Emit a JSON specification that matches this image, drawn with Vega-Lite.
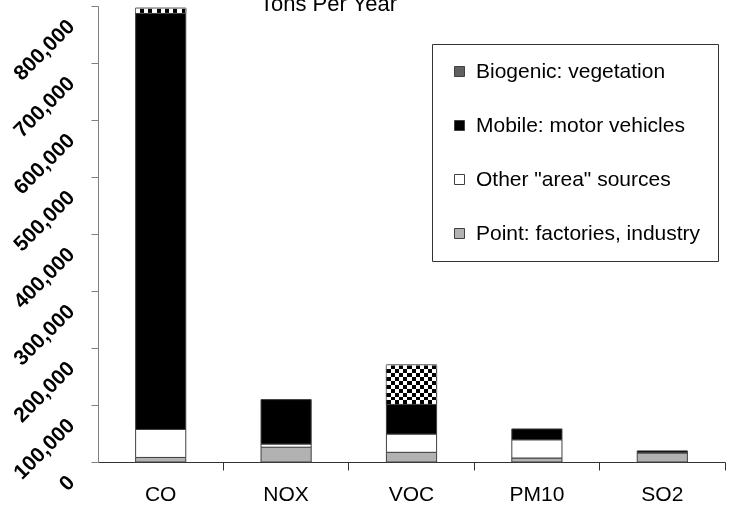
{
  "$schema": "https://vega.github.io/schema/vega-lite/v6.json",
  "width": 627,
  "height": 456,
  "autosize": {"type": "none"},
  "padding": {"left": 98, "top": 6, "right": 6, "bottom": 46},
  "background": "white",
  "config": {"view": {"stroke": null}, "font": "Liberation Sans"},
  "title": {"text": "Tons Per Year", "fontSize": 22, "fontWeight": "normal", "font": "Liberation Sans", "color": "black", "anchor": "middle", "frame": "group", "dx": -83, "offset": -4, "dy": 23, "baseline": "alphabetic"},
  "data": {
    "values": [
      {"pollutant": "CO", "source": "Point: factories, industry", "tons": 8000},
      {"pollutant": "CO", "source": "Other \"area\" sources", "tons": 49000},
      {"pollutant": "CO", "source": "Mobile: motor vehicles", "tons": 730000},
      {"pollutant": "CO", "source": "Biogenic: vegetation", "tons": 9000},
      {"pollutant": "NOX", "source": "Point: factories, industry", "tons": 26000},
      {"pollutant": "NOX", "source": "Other \"area\" sources", "tons": 5500},
      {"pollutant": "NOX", "source": "Mobile: motor vehicles", "tons": 78000},
      {"pollutant": "VOC", "source": "Point: factories, industry", "tons": 17000},
      {"pollutant": "VOC", "source": "Other \"area\" sources", "tons": 32000},
      {"pollutant": "VOC", "source": "Mobile: motor vehicles", "tons": 52000},
      {"pollutant": "VOC", "source": "Biogenic: vegetation", "tons": 69000},
      {"pollutant": "PM10", "source": "Point: factories, industry", "tons": 7000},
      {"pollutant": "PM10", "source": "Other \"area\" sources", "tons": 32000},
      {"pollutant": "PM10", "source": "Mobile: motor vehicles", "tons": 19000},
      {"pollutant": "SO2", "source": "Point: factories, industry", "tons": 16000},
      {"pollutant": "SO2", "source": "Other \"area\" sources", "tons": 500},
      {"pollutant": "SO2", "source": "Mobile: motor vehicles", "tons": 3000}
    ]
  },
  "transform": [
    {"stack": "tons", "groupby": ["pollutant"], "sort": [{"field": "source", "order": "descending"}], "as": ["t0", "t1"]}
  ],
  "encoding": {
    "x": {
      "field": "pollutant", "type": "nominal", "sort": ["CO", "NOX", "VOC", "PM10", "SO2"],
      "scale": {"paddingInner": 0, "paddingOuter": 0},
      "axis": {"title": null, "labelAngle": 0, "labelFontSize": 21, "labelFont": "Liberation Sans", "labelColor": "black", "labelPadding": 13, "tickSize": 8, "tickColor": "#333333", "domainColor": "#333333", "bandPosition": 1, "grid": false}
    },
    "y": {
      "field": "t1", "type": "quantitative",
      "scale": {"domain": [0, 800000], "nice": false},
      "axis": {"title": null, "values": [0, 100000, 200000, 300000, 400000, 500000, 600000, 700000, 800000], "format": ",d", "labelAngle": -45, "labelAlign": "right", "labelBaseline": "middle", "labelFontSize": 21, "labelFontWeight": "bold", "labelFont": "Liberation Sans", "labelColor": "black", "labelOffset": 17, "labelPadding": 20, "tickSize": 7, "tickColor": "#808080", "domainColor": "#808080", "grid": false, "labelOverlap": false, "labelBound": false, "labelFlush": false}
    },
    "y2": {"field": "t0"}
  },
  "layer": [
    {
      "mark": {"type": "bar", "width": {"band": 0.4}, "stroke": "#404040", "strokeWidth": 1},
      "encoding": {
        "color": {
          "field": "source", "type": "nominal",
          "scale": {"domain": ["Biogenic: vegetation", "Mobile: motor vehicles", "Other \"area\" sources", "Point: factories, industry"], "range": ["#606060", "#000000", "#ffffff", "#b2b2b2"]},
          "legend": {"title": null, "orient": "none", "legendX": 334, "legendY": 38, "direction": "vertical", "strokeColor": "#333333", "fillColor": "white", "padding": 17, "rowPadding": 32, "labelFontSize": 21, "labelFont": "Liberation Sans", "labelColor": "black", "labelLimit": 400, "symbolType": "square", "symbolSize": 100, "symbolStrokeWidth": 1, "labelOffset": 6, "cornerRadius": 0,
            "encode": {"symbols": {
              "stroke": {"value": "#333333"},
              "strokeWidth": {"value": 1}
            }}
          }
        }
      }
    },
    {
      "transform": [{"filter": "datum.source === 'Biogenic: vegetation'"}],
      "mark": {"type": "bar", "width": {"band": 0.4}, "stroke": "#404040", "strokeWidth": 1,
        "fill": {"gradient": "linear", "x1": 0, "y1": 0, "x2": 1, "y2": 0, "stops": [
          {"offset": 0, "color": "#000000"}, {"offset": 0.0833, "color": "#000000"}, {"offset": 0.0833, "color": "#ffffff"}, {"offset": 0.1667, "color": "#ffffff"},
          {"offset": 0.1667, "color": "#000000"}, {"offset": 0.25, "color": "#000000"}, {"offset": 0.25, "color": "#ffffff"}, {"offset": 0.3333, "color": "#ffffff"},
          {"offset": 0.3333, "color": "#000000"}, {"offset": 0.4167, "color": "#000000"}, {"offset": 0.4167, "color": "#ffffff"}, {"offset": 0.5, "color": "#ffffff"},
          {"offset": 0.5, "color": "#000000"}, {"offset": 0.5833, "color": "#000000"}, {"offset": 0.5833, "color": "#ffffff"}, {"offset": 0.6667, "color": "#ffffff"},
          {"offset": 0.6667, "color": "#000000"}, {"offset": 0.75, "color": "#000000"}, {"offset": 0.75, "color": "#ffffff"}, {"offset": 0.8333, "color": "#ffffff"},
          {"offset": 0.8333, "color": "#000000"}, {"offset": 0.9167, "color": "#000000"}, {"offset": 0.9167, "color": "#ffffff"}, {"offset": 1, "color": "#ffffff"}]}}
    },
    {
      "transform": [{"filter": "datum.source === 'Biogenic: vegetation'"}],
      "mark": {"type": "bar", "width": {"band": 0.4}, "strokeWidth": 0, "blend": "difference",
        "fill": {"gradient": "linear", "x1": 0, "y1": 0, "x2": 0, "y2": 1, "stops": [
          {"offset": 0, "color": "#ffffff"}, {"offset": 0.1, "color": "#ffffff"}, {"offset": 0.1, "color": "rgba(255,255,255,0)"}, {"offset": 0.2, "color": "rgba(255,255,255,0)"},
          {"offset": 0.2, "color": "#ffffff"}, {"offset": 0.3, "color": "#ffffff"}, {"offset": 0.3, "color": "rgba(255,255,255,0)"}, {"offset": 0.4, "color": "rgba(255,255,255,0)"},
          {"offset": 0.4, "color": "#ffffff"}, {"offset": 0.5, "color": "#ffffff"}, {"offset": 0.5, "color": "rgba(255,255,255,0)"}, {"offset": 0.6, "color": "rgba(255,255,255,0)"},
          {"offset": 0.6, "color": "#ffffff"}, {"offset": 0.7, "color": "#ffffff"}, {"offset": 0.7, "color": "rgba(255,255,255,0)"}, {"offset": 0.8, "color": "rgba(255,255,255,0)"},
          {"offset": 0.8, "color": "#ffffff"}, {"offset": 0.9, "color": "#ffffff"}, {"offset": 0.9, "color": "rgba(255,255,255,0)"}, {"offset": 1, "color": "rgba(255,255,255,0)"}]}}
    }
  ]
}
